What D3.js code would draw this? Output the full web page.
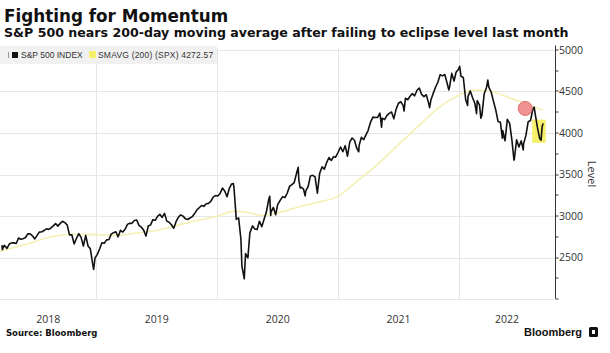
<!DOCTYPE html>
<meta charset="utf-8">
<style>

    body {
        margin: 0;
        background: #fff;
    }

    svg {
        display: block;
    }

    .grid line {
        stroke: #e6e6e6;
        shape-rendering: crispEdges;
    }

    .axis-label {
        font: 10.5px "Open Sans", sans-serif;
        fill: #333;
    }

</style>
<svg width="610" height="353"></svg>
<script src="https://d3js.org/d3.v7.min.js"></script>
<script>
    // S&P 500 closes (weekly-ish)
    var spx = [
        ["2018-03-22", 2643], ["2018-03-23", 2588], ["2018-03-29", 2641], ["2018-04-06", 2604], ["2018-04-13", 2656],
        ["2018-04-20", 2670], ["2018-04-27", 2670], ["2018-05-04", 2663], ["2018-05-11", 2728], ["2018-05-18", 2713],
        ["2018-05-25", 2721], ["2018-06-01", 2735], ["2018-06-08", 2779], ["2018-06-15", 2780], ["2018-06-22", 2755],
        ["2018-06-29", 2718], ["2018-07-06", 2760], ["2018-07-13", 2801], ["2018-07-20", 2802], ["2018-07-27", 2819],
        ["2018-08-03", 2840], ["2018-08-10", 2833], ["2018-08-17", 2850], ["2018-08-24", 2875], ["2018-08-31", 2902],
        ["2018-09-07", 2872], ["2018-09-14", 2905], ["2018-09-21", 2930], ["2018-09-28", 2914], ["2018-10-05", 2885],
        ["2018-10-12", 2767], ["2018-10-19", 2768], ["2018-10-26", 2658], ["2018-11-02", 2723], ["2018-11-09", 2781],
        ["2018-11-16", 2736], ["2018-11-23", 2633], ["2018-11-30", 2760], ["2018-12-07", 2633], ["2018-12-14", 2599],
        ["2018-12-21", 2417], ["2018-12-24", 2351], ["2018-12-28", 2486],
        ["2019-01-04", 2532], ["2019-01-11", 2596], ["2019-01-18", 2671], ["2019-01-25", 2665], ["2019-02-01", 2707],
        ["2019-02-08", 2708], ["2019-02-15", 2776], ["2019-02-22", 2793], ["2019-03-01", 2804], ["2019-03-08", 2743],
        ["2019-03-15", 2822], ["2019-03-22", 2801], ["2019-03-29", 2834], ["2019-04-05", 2893], ["2019-04-12", 2907],
        ["2019-04-18", 2905], ["2019-04-26", 2940], ["2019-05-03", 2946], ["2019-05-10", 2881], ["2019-05-17", 2860],
        ["2019-05-24", 2826], ["2019-05-31", 2752], ["2019-06-07", 2873], ["2019-06-14", 2887], ["2019-06-21", 2950],
        ["2019-06-28", 2942], ["2019-07-05", 2990], ["2019-07-12", 3014], ["2019-07-19", 2977], ["2019-07-26", 3026],
        ["2019-08-02", 2932], ["2019-08-09", 2919], ["2019-08-16", 2889], ["2019-08-23", 2847], ["2019-08-30", 2926],
        ["2019-09-06", 2979], ["2019-09-13", 3007], ["2019-09-20", 2992], ["2019-09-27", 2962], ["2019-10-04", 2952],
        ["2019-10-11", 2970], ["2019-10-18", 2986], ["2019-10-25", 3023], ["2019-11-01", 3067], ["2019-11-08", 3093],
        ["2019-11-15", 3120], ["2019-11-22", 3110], ["2019-11-29", 3141], ["2019-12-06", 3146], ["2019-12-13", 3169],
        ["2019-12-20", 3221], ["2019-12-27", 3240],
        ["2020-01-03", 3235], ["2020-01-10", 3265], ["2020-01-17", 3330], ["2020-01-24", 3295], ["2020-01-31", 3226],
        ["2020-02-07", 3328], ["2020-02-14", 3380], ["2020-02-19", 3386], ["2020-02-21", 3338], ["2020-02-28", 2954],
        ["2020-03-06", 2972], ["2020-03-13", 2711], ["2020-03-16", 2386], ["2020-03-20", 2305], ["2020-03-23", 2237],
        ["2020-03-27", 2541], ["2020-04-03", 2489], ["2020-04-09", 2790], ["2020-04-17", 2875], ["2020-04-24", 2837],
        ["2020-05-01", 2831], ["2020-05-08", 2930], ["2020-05-15", 2864], ["2020-05-22", 2955], ["2020-05-29", 3044],
        ["2020-06-05", 3194], ["2020-06-08", 3232], ["2020-06-11", 3002], ["2020-06-12", 3041], ["2020-06-19", 3098],
        ["2020-06-26", 3009], ["2020-07-02", 3130], ["2020-07-10", 3185], ["2020-07-17", 3225], ["2020-07-24", 3216],
        ["2020-07-31", 3271], ["2020-08-07", 3351], ["2020-08-14", 3373], ["2020-08-21", 3397], ["2020-08-28", 3508],
        ["2020-09-02", 3580], ["2020-09-04", 3427], ["2020-09-08", 3332], ["2020-09-11", 3341], ["2020-09-18", 3319],
        ["2020-09-23", 3237], ["2020-09-25", 3298], ["2020-10-02", 3348], ["2020-10-09", 3477], ["2020-10-16", 3484],
        ["2020-10-23", 3465], ["2020-10-30", 3270], ["2020-11-06", 3510], ["2020-11-13", 3585], ["2020-11-20", 3558],
        ["2020-11-27", 3638], ["2020-12-04", 3699], ["2020-12-11", 3663], ["2020-12-18", 3709], ["2020-12-24", 3703],
        ["2020-12-31", 3756],
        ["2021-01-08", 3825], ["2021-01-15", 3768], ["2021-01-22", 3841], ["2021-01-29", 3714], ["2021-02-05", 3887],
        ["2021-02-12", 3934], ["2021-02-19", 3907], ["2021-02-26", 3811], ["2021-03-04", 3768], ["2021-03-05", 3842],
        ["2021-03-12", 3943], ["2021-03-19", 3913], ["2021-03-26", 3975], ["2021-04-01", 4020], ["2021-04-09", 4129],
        ["2021-04-16", 4185], ["2021-04-23", 4180], ["2021-04-30", 4181], ["2021-05-07", 4233], ["2021-05-12", 4063],
        ["2021-05-14", 4174], ["2021-05-21", 4156], ["2021-05-28", 4204], ["2021-06-04", 4230], ["2021-06-11", 4247],
        ["2021-06-18", 4166], ["2021-06-25", 4281], ["2021-07-02", 4352], ["2021-07-09", 4370], ["2021-07-16", 4327],
        ["2021-07-19", 4259], ["2021-07-23", 4412], ["2021-07-30", 4395], ["2021-08-06", 4437], ["2021-08-13", 4468],
        ["2021-08-20", 4442], ["2021-08-27", 4509], ["2021-09-03", 4535], ["2021-09-10", 4459], ["2021-09-17", 4433],
        ["2021-09-24", 4455], ["2021-10-01", 4357], ["2021-10-04", 4300], ["2021-10-08", 4391], ["2021-10-15", 4471],
        ["2021-10-22", 4545], ["2021-10-29", 4605], ["2021-11-05", 4697], ["2021-11-12", 4682], ["2021-11-19", 4698],
        ["2021-11-26", 4595], ["2021-12-01", 4513], ["2021-12-03", 4538], ["2021-12-10", 4712], ["2021-12-17", 4620],
        ["2021-12-23", 4726], ["2021-12-31", 4766],
        ["2022-01-03", 4797], ["2022-01-07", 4677], ["2022-01-14", 4663], ["2022-01-21", 4398], ["2022-01-27", 4326],
        ["2022-01-28", 4432], ["2022-02-04", 4501], ["2022-02-11", 4419], ["2022-02-18", 4349], ["2022-02-23", 4226],
        ["2022-02-25", 4385], ["2022-03-04", 4329], ["2022-03-08", 4171], ["2022-03-11", 4204], ["2022-03-18", 4463],
        ["2022-03-25", 4543], ["2022-03-29", 4632], ["2022-04-01", 4546], ["2022-04-08", 4488], ["2022-04-14", 4393],
        ["2022-04-22", 4272], ["2022-04-29", 4132], ["2022-05-06", 4123], ["2022-05-12", 3930], ["2022-05-13", 4024],
        ["2022-05-20", 3901], ["2022-05-27", 4158], ["2022-06-03", 4109], ["2022-06-10", 3901], ["2022-06-16", 3667],
        ["2022-06-17", 3675], ["2022-06-24", 3912], ["2022-07-01", 3825], ["2022-07-08", 3899], ["2022-07-14", 3790],
        ["2022-07-15", 3863], ["2022-07-22", 3962], ["2022-07-29", 4130], ["2022-08-05", 4145], ["2022-08-12", 4280],
        ["2022-08-16", 4305], ["2022-08-19", 4228], ["2022-08-26", 4058], ["2022-09-02", 3924], ["2022-09-06", 3908],
        ["2022-09-09", 4067], ["2022-09-12", 4110]
    ];

    // 200-day simple moving average
    var smavg = [
        ["2018-03-16", 2570], ["2018-06-01", 2650], ["2018-08-15", 2740], ["2018-10-15", 2775], ["2019-01-01", 2770],
        ["2019-03-01", 2760], ["2019-05-01", 2790], ["2019-07-01", 2820], ["2019-09-01", 2880], ["2019-11-01", 2940],
        ["2020-01-01", 2990], ["2020-02-20", 3050], ["2020-04-01", 3040], ["2020-05-15", 3000], ["2020-07-01", 3030],
        ["2020-09-01", 3100], ["2020-11-01", 3160], ["2020-12-31", 3230], ["2021-03-01", 3420], ["2021-05-01", 3620],
        ["2021-07-01", 3850], ["2021-09-01", 4080], ["2021-11-01", 4300], ["2022-01-01", 4450], ["2022-02-15", 4510],
        ["2022-04-01", 4500], ["2022-06-01", 4420], ["2022-08-01", 4330], ["2022-09-12", 4272]
    ];

    var yTicks = [2000, 2500, 3000, 3500, 4000, 4500, 5000];
    var years = [2018, 2019, 2020, 2021, 2022];
    var xDomain = ["2018-03-16", "2022-10-18"];
    var yDomain = [2000, 5000];

    // highlights: failed test of the moving average, and the latest dip
    var failedTest = ["2022-07-20", 4290];
    var latestDip = [["2022-08-10", 4155], ["2022-09-20", 3875]];

    var svg = d3.select("svg"),
        margin = {top: 49.5, right: 55, bottom: 54.5, left: 0},
        width = +svg.attr("width") - margin.left - margin.right,
        height = +svg.attr("height") - margin.top - margin.bottom;

    var parse = d3.timeParse("%Y-%m-%d");

    var x = d3.scaleTime()
        .domain(xDomain.map(parse))
        .range([0, width]);

    var y = d3.scaleLinear()
        .domain(yDomain)
        .range([height, 0]);

    var g = svg.append("g")
        .attr("transform", "translate(" + margin.left + "," + margin.top + ")");

    // gridlines
    var grid = g.append("g").attr("class", "grid");

    grid.selectAll(".h")
        .data(yTicks)
        .enter().append("line")
        .attr("x1", 0)
        .attr("x2", width)
        .attr("y1", function (d) { return Math.round(y(d)) + 0.5; })
        .attr("y2", function (d) { return Math.round(y(d)) + 0.5; });

    grid.selectAll(".v")
        .data(years.slice(1))
        .enter().append("line")
        .attr("x1", function (d) { return Math.round(x(new Date(d, 0, 1))) + 0.5; })
        .attr("x2", function (d) { return Math.round(x(new Date(d, 0, 1))) + 0.5; })
        .attr("y1", -2)
        .attr("y2", height);

    // legend
    var legend = svg.append("g").attr("transform", "translate(0,46)");

    legend.append("rect")
        .attr("width", 217)
        .attr("height", 18)
        .attr("fill", "#f1f1f1");

    legend.append("line")
        .attr("x1", 8.5).attr("x2", 8.5)
        .attr("y1", 6).attr("y2", 12)
        .attr("stroke", "#999");

    legend.append("rect")
        .attr("x", 12).attr("y", 6)
        .attr("width", 6).attr("height", 6)
        .attr("fill", "#111");

    legend.append("text")
        .attr("x", 21).attr("y", 12)
        .style("font", "8.5px 'Liberation Sans', sans-serif")
        .style("fill", "#333")
        .text("S&P 500 INDEX");

    legend.append("rect")
        .attr("x", 89).attr("y", 5)
        .attr("width", 7).attr("height", 7)
        .attr("fill", "#f5ef6a");

    legend.append("text")
        .attr("x", 98).attr("y", 12)
        .style("font", "8.5px 'Liberation Sans', sans-serif")
        .style("letter-spacing", "0.2px")
        .style("fill", "#333")
        .text("SMAVG (200) (SPX) 4272.57");

    // lines
    var line = d3.line()
        .x(function (d) { return x(parse(d[0])); })
        .y(function (d) { return y(d[1]); });

    g.append("path")
        .datum(smavg)
        .attr("fill", "none")
        .attr("stroke", "#f4f0b4")
        .attr("stroke-width", 1.6)
        .attr("d", line.curve(d3.curveMonotoneX));

    g.append("rect")
        .attr("x", x(parse(latestDip[0][0])))
        .attr("y", y(latestDip[0][1]))
        .attr("width", x(parse(latestDip[1][0])) - x(parse(latestDip[0][0])))
        .attr("height", y(latestDip[1][1]) - y(latestDip[0][1]))
        .attr("fill", "#f5ef6a");

    g.append("path")
        .datum(spx)
        .attr("fill", "none")
        .attr("stroke", "#111")
        .attr("stroke-width", 1.6)
        .attr("stroke-linejoin", "round")
        .attr("d", line.curve(d3.curveLinear));

    g.append("circle")
        .attr("cx", x(parse(failedTest[0])))
        .attr("cy", y(failedTest[1]))
        .attr("r", 7)
        .attr("fill", "#ef8585")
        .attr("fill-opacity", 0.9)
        .attr("stroke", "#e06a6a");

    // right axis
    var axis = g.append("g")
        .attr("transform", "translate(" + width + ",0)");

    axis.append("line")
        .attr("x1", 0.5).attr("x2", 0.5)
        .attr("y1", -4).attr("y2", height)
        .attr("stroke", "#333");

    axis.selectAll(".tick")
        .data(d3.range(yDomain[0], yDomain[1] + 1, 250))
        .enter().append("line")
        .attr("x1", 0.5).attr("x2", 3.5)
        .attr("y1", function (d) { return Math.round(y(d)) + 0.5; })
        .attr("y2", function (d) { return Math.round(y(d)) + 0.5; })
        .attr("stroke", "#333");

    axis.selectAll("text")
        .data(yTicks.slice(1))
        .enter().append("text")
        .attr("class", "axis-label")
        .attr("x", 4)
        .attr("y", function (d) { return y(d) + 4; })
        .text(function (d) { return d; });

    axis.append("text")
        .attr("class", "axis-label")
        .attr("transform", "translate(33," + y(3500) + ") rotate(90)")
        .attr("text-anchor", "middle")
        .style("font-size", "11px")
        .text("Level");

    // year labels, centred on the visible part of each year
    g.selectAll(".year")
        .data(years)
        .enter().append("text")
        .attr("class", "axis-label")
        .attr("text-anchor", "middle")
        .attr("x", function (d) {
            var a = Math.max(x(new Date(d, 0, 1)), 0),
                b = Math.min(x(new Date(d + 1, 0, 1)), width);
            return (a + b) / 2;
        })
        .attr("y", height + 24)
        .text(function (d) { return d; });

    // titles and footer
    svg.append("text")
        .attr("x", 4).attr("y", 22)
        .style("font", "bold 16.8px 'DejaVu Sans', sans-serif")
        .style("fill", "#111")
        .text("Fighting for Momentum");

    svg.append("text")
        .attr("x", 4).attr("y", 37)
        .style("font", "bold 12.6px 'DejaVu Sans', sans-serif")
        .style("fill", "#111")
        .text("S&P 500 nears 200-day moving average after failing to eclipse level last month");

    svg.append("text")
        .attr("x", 6).attr("y", 336)
        .style("font", "bold 8.5px 'DejaVu Sans', sans-serif")
        .style("fill", "#111")
        .text("Source: Bloomberg");

    svg.append("text")
        .attr("x", 524).attr("y", 336)
        .style("font", "bold 11px 'Liberation Sans', sans-serif")
        .style("fill", "#111")
        .text("Bloomberg");

    svg.append("rect")
        .attr("x", 589).attr("y", 327)
        .attr("width", 9).attr("height", 10)
        .attr("rx", 1.5)
        .attr("fill", "#111");

    svg.append("rect")
        .attr("x", 592).attr("y", 330)
        .attr("width", 3).attr("height", 4)
        .attr("fill", "#fff");

</script>
